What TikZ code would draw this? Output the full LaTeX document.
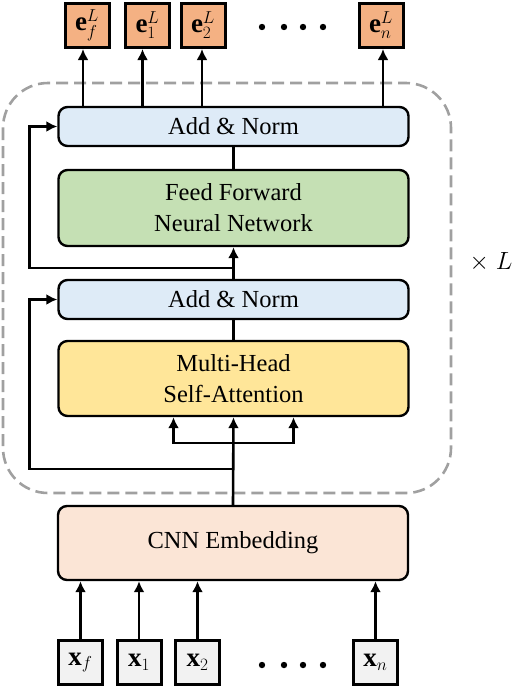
\documentclass[tikz,border=0pt]{standalone}
\usepackage{fontspec}
\setmainfont{Liberation Serif}
\usepackage{amsmath}
\usetikzlibrary{arrows.meta,positioning,calc}

\definecolor{outfill}{HTML}{F4B183}
\definecolor{infill}{HTML}{F2F2F2}
\definecolor{normfill}{HTML}{DEEBF7}
\definecolor{ffnfill}{HTML}{C5E0B4}
\definecolor{attfill}{HTML}{FFE699}
\definecolor{cnnfill}{HTML}{FBE5D6}
\definecolor{loopgray}{HTML}{A0A0A0}

\begin{document}
\begin{tikzpicture}[
  x=1pt, y=-1pt,
  every node/.style={font=\fontsize{24.5}{31}\selectfont},
  tok/.style={draw, line width=3pt, minimum width=44pt, minimum height=44pt, inner sep=0pt,
    font=\fontsize{27}{31}\selectfont},
  outtok/.style={tok, fill=outfill},
  intok/.style={tok, fill=infill},
  block/.style={draw, line width=2.4pt, rounded corners=9pt, minimum width=350pt, align=center, inner sep=0pt},
  arr/.style={-{Latex[length=11pt,width=11pt]}, line width=2.6pt},
  link/.style={line width=2.6pt}
]
\useasboundingbox (0,0) rectangle (512,686);

% repeated encoder layer
\draw[loopgray, line width=2.6pt, dash pattern=on 12pt off 6pt, rounded corners=45pt] (3,83) rectangle (451,493);
\node (times) at (491,262) {$\times\; L$};

% blocks
\node[block, fill=normfill, minimum height=39pt] (addTop) at (233.5,126.5) {Add \& Norm};
\node[block, fill=ffnfill, minimum height=76pt] (ffn) at (233.5,208) {Feed Forward\\Neural Network};
\node[block, fill=normfill, minimum height=39pt] (addLow) at (233.5,299.5) {Add \& Norm};
\node[block, fill=attfill, minimum height=75pt] (mhsa) at (233.5,378.5) {Multi-Head\\Self-Attention};
\node[block, fill=cnnfill, minimum height=74pt] (cnn) at (233,543) {CNN Embedding};

% output tokens
\node[outtok] (eF) at (87,25.5) {$\mathbf{e}_f^L$};
\node[outtok] (e1) at (147.5,25.5) {$\mathbf{e}_1^L$};
\node[outtok] (e2) at (203,25.5) {$\mathbf{e}_2^L$};
\node[outtok] (eN) at (381,25.5) {$\mathbf{e}_n^L$};
\foreach \dx in {262,284,303,323} \fill (\dx,27) circle (3.2pt);

% input tokens
\node[intok] (xF) at (80.5,662.5) {$\mathbf{x}_f$};
\node[intok] (x1) at (139,662.5) {$\mathbf{x}_1$};
\node[intok] (x2) at (197.5,662.5) {$\mathbf{x}_2$};
\node[intok] (xN) at (375.5,662.5) {$\mathbf{x}_n$};
\foreach \dx in {262,284,303,323} \fill (\dx,665) circle (3.2pt);

% inputs into embedding
\foreach \t in {xF,x1,x2,xN}
  \draw[arr] (\t.north) -- (\t.north |- cnn.south);

% attention sublayer
\coordinate (split) at (233.5,443);
\coordinate (res2) at (233.5,469);
\draw[arr] (cnn.north) -- (mhsa.south);
\draw[arr] (split) -| ([xshift=-60pt]mhsa.south);
\draw[arr] (split) -| ([xshift=60pt]mhsa.south);
\draw[arr] (res2) -- ++(-204,0) |- (addLow.west);
\draw[link] (mhsa.north) -- (addLow.south);

% feed forward sublayer
\coordinate (res1) at (233.5,268);
\draw[arr] (addLow.north) -- (ffn.south);
\draw[arr] (res1) -- ++(-204,0) |- (addTop.west);
\draw[link] (ffn.north) -- (addTop.south);

% outputs
\draw[arr] ([xshift=-4pt]eF.south |- addTop.north) -- ([xshift=-4pt]eF.south);
\draw[arr] ([xshift=-5pt]e1.south |- addTop.north) -- ([xshift=-5pt]e1.south);
\draw[arr] ([xshift=-1pt]e2.south |- addTop.north) -- ([xshift=-1pt]e2.south);
\draw[arr] ([xshift=2pt]eN.south |- addTop.north) -- ([xshift=2pt]eN.south);
\end{tikzpicture}
\end{document}
